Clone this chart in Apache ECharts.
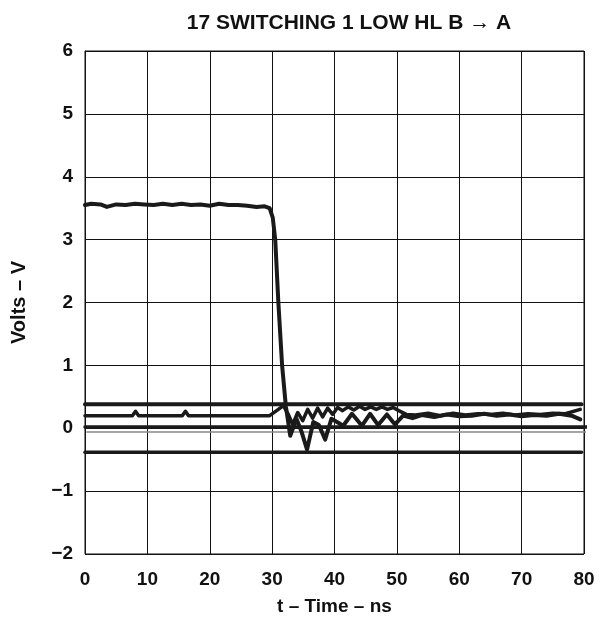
<!DOCTYPE html>
<html>
<head>
<meta charset="utf-8">
<script src="https://cdn.jsdelivr.net/npm/echarts@6/dist/echarts.min.js"></script>
<style>
  html, body { margin: 0; padding: 0; background: #fff; }
  #chart { width: 601px; height: 634px; }
</style>
</head>
<body>
<div id="chart"></div>
<script>
// switching output (B -> A), time in ns, volts
const mainT = [0, 1, 2.5, 3.5, 5, 6.5, 8, 9.5, 11, 12.5, 14, 15.5, 17, 18.5, 20, 21.5, 23, 24.5, 26, 27.5, 28.8, 29.6,
  30.1, 30.5, 31.0, 31.6, 32.2, 32.9, 33.9, 34.7, 35.6, 36.6, 37.5, 38.5, 39.5, 40.4, 41.4, 42.8, 44.4, 45.7, 47.0, 48.4, 49.7,
  51, 52.5, 54, 56, 58, 60, 62, 64, 66, 68, 70, 72, 74, 76, 78, 79.4]
const mainV = [3.55, 3.57, 3.56, 3.52, 3.56, 3.55, 3.57, 3.56, 3.55, 3.57, 3.55, 3.57, 3.55, 3.56, 3.54, 3.57, 3.55, 3.55, 3.54, 3.52, 3.53, 3.50,
  3.35, 3.0, 2.0, 1.0, 0.35, -0.12, 0.15, -0.05, -0.34, 0.1, 0.05, -0.18, 0.15, 0.1, 0.04, 0.23, 0.04, 0.23, 0.05, 0.22, 0.06,
  0.2, 0.16, 0.21, 0.18, 0.22, 0.19, 0.2, 0.23, 0.2, 0.22, 0.19, 0.21, 0.2, 0.23, 0.2, 0.14]

// quiet line (low) with crosstalk
const quietT = [0, 7.6, 8.1, 8.6, 15.6, 16.1, 16.6, 29.6, 31.0, 31.8, 32.6, 33.3, 34.1, 34.9, 35.7, 36.5, 37.3, 38.1, 38.9, 39.7,
  40.5, 41.3, 42.2, 43.1, 44.0, 44.9, 45.8, 46.7, 47.6, 48.5, 49.4, 50.3, 51.5, 53, 55, 57, 59, 61, 63, 65, 67, 69, 71, 73, 75, 77, 79.4]
const quietV = [0.2, 0.2, 0.27, 0.2, 0.2, 0.27, 0.2, 0.2, 0.3, 0.36, 0.22, 0.06, 0.25, 0.12, 0.3, 0.16, 0.32, 0.18, 0.32, 0.22,
  0.33, 0.28, 0.34, 0.29, 0.35, 0.3, 0.34, 0.3, 0.34, 0.3, 0.33, 0.28, 0.22, 0.21, 0.24, 0.2, 0.24, 0.21, 0.23, 0.22, 0.24, 0.21, 0.23, 0.22, 0.24, 0.23, 0.3]

// static reference traces
const highT = [0, 79.6]
const highV = [0.38, 0.38]
const zeroT = [0, 80.6]
const zeroV = [0.02, 0.02]
const refT = [0.3, 80.7]
const refV = [-0.06, -0.06]
const lowT = [0, 79.6]
const lowV = [-0.38, -0.38]

const xTicks = [0, 10, 20, 30, 40, 50, 60, 70, 80]
const yTicks = [-2, -1, 0, 1, 2, 3, 4, 5, 6]

const zip = (t, v) => t.map((x, i) => [x, v[i]])
const minus = (v) => String(v).replace('-', '\u2212')

const chart = echarts.init(document.getElementById('chart'))

const trace = (name, t, v, width, color, extra) => Object.assign({
  name,
  type: 'line',
  data: zip(t, v),
  showSymbol: false,
  symbol: 'none',
  smooth: false,
  lineStyle: { width, color, join: 'round', cap: 'round' },
  animation: false
}, extra || {})

chart.setOption({
  animation: false,
  backgroundColor: '#fff',
  textStyle: { fontFamily: 'Liberation Sans, Arial, sans-serif' },
  title: {
    text: '17 SWITCHING 1 LOW HL B \u2192 A',
    left: 344,
    textAlign: 'center',
    top: 8,
    textStyle: { fontSize: 21, fontWeight: 'bold', color: '#111', fontFamily: 'Liberation Sans, Arial, sans-serif' }
  },
  grid: { left: 85, right: 17, top: 51, bottom: 80, show: true, borderColor: '#111', borderWidth: 1 },
  xAxis: {
    type: 'value',
    min: 0, max: 80, interval: 10,
    name: 't \u2013 Time \u2013 ns',
    nameLocation: 'middle',
    nameGap: 43,
    nameTextStyle: { fontSize: 19, fontWeight: 'bold', color: '#111' },
    axisLine: { show: true, lineStyle: { color: '#111', width: 1 } },
    axisTick: { show: false },
    axisLabel: { fontSize: 19, fontWeight: 'bold', color: '#111', margin: 16, formatter: (v) => xTicks.includes(v) ? minus(v) : '' },
    splitLine: { show: true, lineStyle: { color: '#111', width: 1 } }
  },
  yAxis: {
    type: 'value',
    min: -2, max: 6, interval: 1,
    name: 'Volts \u2013 V',
    nameLocation: 'middle',
    nameGap: 56,
    nameTextStyle: { fontSize: 20, fontWeight: 'bold', color: '#111' },
    axisLine: { show: true, lineStyle: { color: '#111', width: 1 } },
    axisTick: { show: false },
    axisLabel: { fontSize: 19, fontWeight: 'bold', color: '#111', margin: 12, formatter: (v) => yTicks.includes(v) ? minus(v) : '' },
    splitLine: { show: true, lineStyle: { color: '#111', width: 1 } }
  },
  series: [
    trace('ref', refT, refV, 1.5, '#888', { clip: false }),
    trace('zero', zeroT, zeroV, 3.5, '#1a1a1a', { clip: false }),
    trace('low', lowT, lowV, 3.5, '#1a1a1a'),
    trace('high', highT, highV, 4, '#1a1a1a'),
    trace('quiet', quietT, quietV, 3.5, '#1a1a1a'),
    trace('switching', mainT, mainV, 4, '#1a1a1a')
  ]
})

window.addEventListener('resize', () => chart.resize())
</script>
</body>
</html>
